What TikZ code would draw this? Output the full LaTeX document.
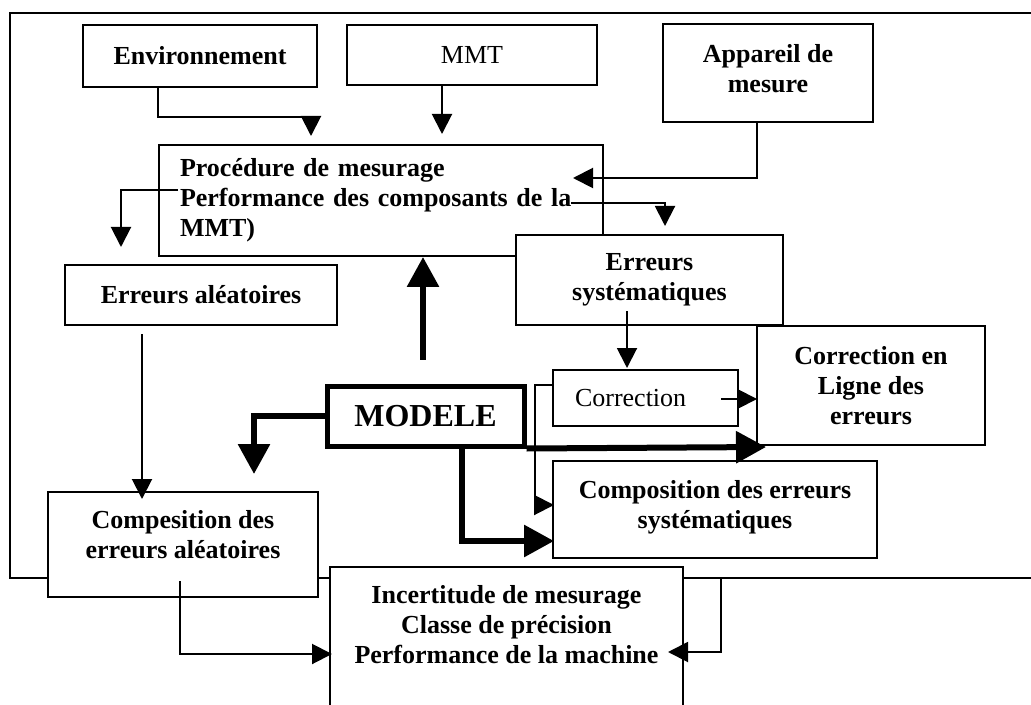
\documentclass[tikz,border=0pt]{standalone}
\usepackage{fontspec}
\setmainfont{Liberation Serif}
\usepackage{tikz}
\usetikzlibrary{arrows.meta,calc}

\tikzset{
  boite/.style={draw, line width=1pt, fill=white, align=center, inner sep=2pt,
    font=\fontsize{13pt}{15pt}\selectfont\bfseries},
  fleche/.style={line width=1pt, -{Triangle[length=10pt,width=10pt]}},
  grosse/.style={line width=3pt, -{Triangle[length=15pt,width=15.5pt]}}
}

\begin{document}
\begin{tikzpicture}[x=0.5pt,y=-0.5pt]
		\clip (0,0) rectangle (1031,705);
		%%cadre
		\node[draw, line width=1pt, minimum width=520pt, minimum height=282.5pt] (cadre) at (530,295.5) {};
		%%entrees
		\node[boite, minimum width=117pt, minimum height=31pt] (env) at (200,56) {Environnement};
		\node[boite, minimum width=125pt, minimum height=30pt, font=\fontsize{13pt}{15pt}\selectfont] (mmt) at (472,55) {MMT};
		\node[boite, minimum width=105pt, minimum height=49pt, text depth=5pt] (app) at (768,73) {Appareil de\\mesure};
		%%procedure
		\node[boite, minimum width=222pt, minimum height=55.5pt, inner xsep=10.5pt, text width=201pt, align=left] (proc) at (381,200.5) {Proc\'edure de mesurage\\Performance des composants de la\\MMT)};
		%%erreurs
		\node[boite, minimum width=136pt, minimum height=30pt] (ealea) at (201,295) {Erreurs al\'eatoires};
		\node[boite, minimum width=133.5pt, minimum height=45pt] (esys) at (649.5,280) {Erreurs\\syst\'ematiques};
		\node[boite, minimum width=114pt, minimum height=59.5pt] (ligne) at (871,385.5) {Correction en\\Ligne des\\erreurs};
		\node[boite, minimum width=92.5pt, minimum height=28pt, inner xsep=11pt, text width=70.5pt, align=left, font=\fontsize{13pt}{15pt}\selectfont] (corr) at (645.5,398) {Correction};
		%%modele
		\node[boite, line width=2.5pt, minimum width=98.5pt, minimum height=30pt, font=\fontsize{16pt}{18pt}\selectfont\bfseries] (modele) at (425.5,416) {MODELE};
		%%compositions
		\node[boite, minimum width=162pt, minimum height=48.5pt, text depth=5pt] (csys) at (715,509.5) {Composition des erreurs\\syst\'ematiques};
		\node[boite, minimum width=135pt, minimum height=52.5pt, text depth=10.5pt] (calea) at (183,544.5) {Compesition des\\erreurs al\'eatoires};
		%%sortie
		\node[boite, anchor=north, minimum width=176.5pt, minimum height=100pt] (incbox) at (506.5,566) {};
		\node[font=\fontsize{13pt}{15pt}\selectfont\bfseries, align=center, inner sep=0pt] (inc) at (506.5,625) {Incertitude de mesurage\\Classe de pr\'ecision\\Performance de la machine};
		%%fleches
		\draw[fleche] ($(env.south west)+(76,0)$) -- ++(0,29) -| ($(proc.north west)+(153,-8)$);
		\draw[fleche] ($(mmt.south)+(-30,0)$) -- ($(mmt.south |- proc.north)+(-30,-10)$);
		\draw[fleche] ($(app.south)+(-11,0)$) |- ($(proc.east)+(-31,-22.5)$);
		\draw[fleche] ($(proc.west)+(20,-10.5)$) -| ($(ealea.north west)+(57,-17)$);
		\draw[fleche] ($(proc.east)+(-33,2.5)$) -| ($(esys.north)+(15.5,-8)$);
		\draw[fleche] ($(ealea.south)+(-59,8)$) -- ($(ealea.south |- calea.north)+(-59,8)$);
		\draw[fleche] ($(esys.south)+(-22.5,-15)$) -- ($(esys.south |- corr.north)+(-22.5,-1)$);
		\draw[fleche] ($(corr.east)+(-18,1)$) -- ($(corr.east -| ligne.west)+(1,1)$);
		\draw[fleche] ($(corr.west)+(0,-13)$) -- ++(-17,0) |- ($(csys.west)+(2,-4.5)$);
		%%fleches du modele
		\draw[grosse] ($(modele.north)+(-2.5,-24)$) -- ($(modele.north |- proc.south)+(-2.5,0)$);
		\draw[grosse] (modele.west) -| ($(calea.north)+(71,-17)$);
		\draw[grosse] ($(modele.south)+(36.5,0)$) |- ($(csys.west)+(2,31.5)$);
		\draw[grosse] (modele.south east) -- ($(ligne.south west)+(10,1)$);
		%%vers la sortie
		\draw[fleche] ($(calea.south)+(-3,-17)$) |- ($(incbox.north west)+(3,88)$);
		\draw[fleche] ($(incbox.north east)+(37,12)$) |- ($(incbox.north east)+(-16,86)$);
\end{tikzpicture}
\end{document}
